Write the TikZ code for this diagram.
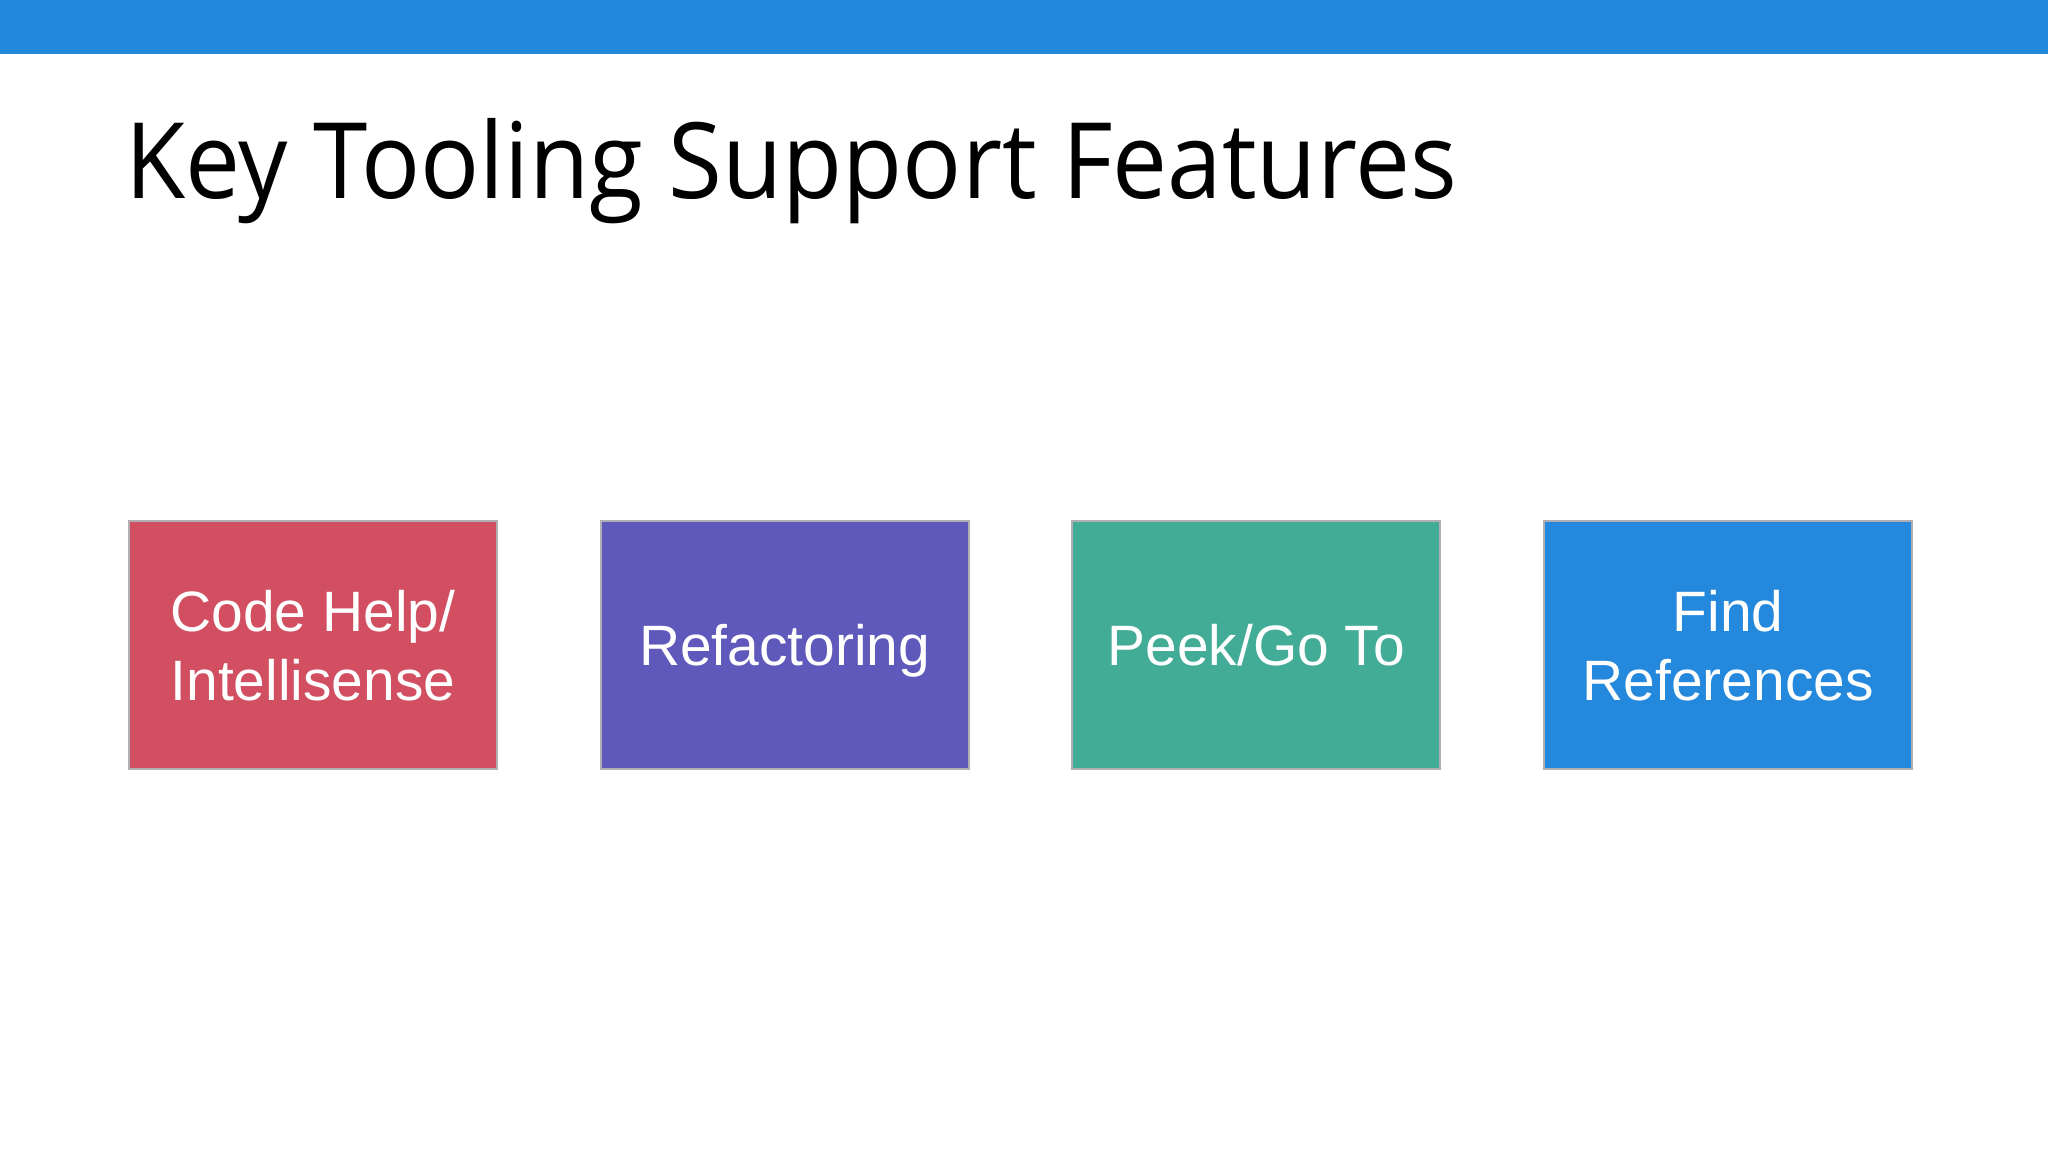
\documentclass[tikz,border=0pt]{standalone}
\usepackage{fontspec}
\setmainfont{Open Sans}
\newfontfamily\boxfont{Liberation Sans}
\usetikzlibrary{positioning}
\definecolor{barblue}{RGB}{34,136,220}
\definecolor{featred}{RGB}{209,79,97}
\definecolor{featpurple}{RGB}{94,89,186}
\definecolor{featteal}{RGB}{67,172,151}
\definecolor{featblue}{RGB}{36,136,220}
\definecolor{featedge}{RGB}{176,176,180}
\begin{document}
\begin{tikzpicture}[
        feature/.style={rectangle, draw=featedge, line width=0.2mm, outer sep=0pt,
            minimum width=3.68cm, minimum height=2.48cm, align=center, text depth=0pt,
            text=white, font=\boxfont\fontsize{16.2}{19.6}\selectfont},
        node distance=1.037cm
    ]
    \useasboundingbox (0,0) rectangle (20.48,-11.52);
    \fill[barblue] (0,0) rectangle (20.48,-0.54);
    \node[anchor=base west, inner sep=0pt, transform shape, xscale=0.93,
        font=\fontsize{30}{36}\selectfont] (title) at (1.25,-1.99) {Key Tooling Support Features};
    \node[feature, fill=featred, anchor=north west] (codehelp) at (1.29,-5.21) {Code Help/\\Intellisense};
    \node[feature, fill=featpurple, right=of codehelp] (refactor) {Refactoring};
    \node[feature, fill=featteal, right=of refactor] (peek) {Peek/Go To};
    \node[feature, fill=featblue, right=of peek] (findref) {Find\\References};
\end{tikzpicture}
\end{document}
